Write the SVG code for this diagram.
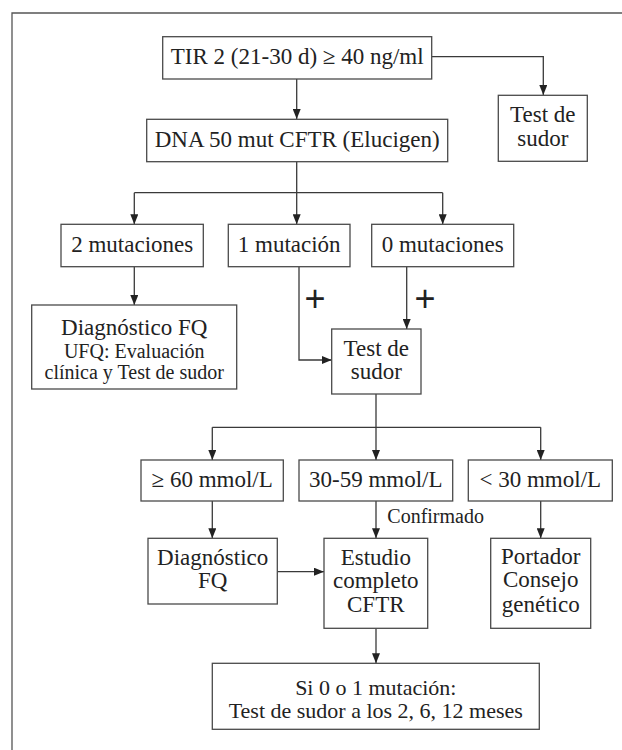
<svg xmlns="http://www.w3.org/2000/svg" width="622" height="750" viewBox="0 0 622 750">
<defs>
<style>
.box{fill:#fff;stroke:#4a4a4a;stroke-width:1.3}
.t{font-family:"Liberation Serif","Times New Roman",serif;font-size:23px;fill:#222;text-anchor:middle}
.s{font-size:20px}
.b{font-size:22px}
.c{font-family:"Liberation Serif","Times New Roman",serif;font-size:20px;fill:#222}
.p{font-family:"Liberation Sans",Arial,sans-serif;font-size:36px;fill:#222;text-anchor:middle}
.ln{fill:none;stroke:#3a3a3a;stroke-width:1.3}
.ar{marker-end:url(#ah)}
</style>
<marker id="ah" markerUnits="userSpaceOnUse" markerWidth="10" markerHeight="8" refX="10" refY="4" orient="auto">
<path d="M0,0 L10,4 L0,8 z" fill="#222"/>
</marker>
</defs>
<path d="M12,750 V13 H622" fill="none" stroke="#555" stroke-width="1.3"/>
<g id="connectors">
<path class="ln ar" d="M296.7,79 V119"/>
<path class="ln ar" d="M431.7,56.7 H543.3 V95"/>
<path class="ln" d="M296.7,161.7 V192.7 M134.3,192.7 H442.7"/>
<path class="ln ar" d="M134.3,192.7 V224.3"/>
<path class="ln ar" d="M296.7,192.7 V224.3"/>
<path class="ln ar" d="M442.7,192.7 V224.3"/>
<path class="ln ar" d="M134.3,266.7 V305"/>
<path class="ln ar" d="M299,266.7 V360 H331.7"/>
<path class="ln ar" d="M406.7,266.7 V329"/>
<path class="ln" d="M376,394 V427.3 M212.3,427.3 H540.7"/>
<path class="ln ar" d="M212.3,427.3 V460"/>
<path class="ln ar" d="M376,427.3 V460"/>
<path class="ln ar" d="M540.7,427.3 V460"/>
<path class="ln ar" d="M212.3,501 V538.3"/>
<path class="ln ar" d="M376,501 V538.3"/>
<path class="ln ar" d="M540.7,501 V538.3"/>
<path class="ln ar" d="M277.3,571.7 H324"/>
<path class="ln ar" d="M376,628.3 V663.3"/>
<text class="p" x="315" y="311">+</text>
<text class="p" x="425" y="311">+</text>
<text class="c" x="387.3" y="523.3">Confirmado</text>
</g>
<g id="tir">
<rect class="box" x="162.7" y="36.7" width="269" height="42.3"/>
<text class="t" x="297.2" y="64.3">TIR 2 (21-30 d) ≥ 40 ng/ml</text>
</g>
<g id="test1">
<rect class="box" x="498.3" y="95.3" width="89" height="66"/>
<text class="t" x="542.8" y="121.7">Test de</text>
<text class="t" x="542.8" y="146">sudor</text>
</g>
<g id="dna">
<rect class="box" x="146.7" y="119.3" width="301" height="42.4"/>
<text class="t" x="297.2" y="146.5">DNA 50 mut CFTR (Elucigen)</text>
</g>
<g id="mut2">
<rect class="box" x="61" y="224.3" width="142.3" height="42.4"/>
<text class="t" x="132.2" y="251.7">2 mutaciones</text>
</g>
<g id="mut1">
<rect class="box" x="228.3" y="224.3" width="121.7" height="42.4"/>
<text class="t" x="289.2" y="251.7">1 mutación</text>
</g>
<g id="mut0">
<rect class="box" x="371.7" y="224.3" width="142" height="42.4"/>
<text class="t" x="442.7" y="251.7">0 mutaciones</text>
</g>
<g id="diag1">
<rect class="box" x="31.7" y="305" width="205" height="84"/>
<text class="t" x="134.2" y="335">Diagnóstico FQ</text>
<text class="t s" x="134.2" y="357.5">UFQ: Evaluación</text>
<text class="t s" x="134.2" y="379">clínica y Test de sudor</text>
</g>
<g id="test2">
<rect class="box" x="331.7" y="329" width="89.3" height="65"/>
<text class="t" x="376.3" y="356">Test de</text>
<text class="t" x="376.3" y="379.3">sudor</text>
</g>
<g id="ge60">
<rect class="box" x="141" y="460" width="142.3" height="41"/>
<text class="t" x="212.2" y="487.3">≥ 60 mmol/L</text>
</g>
<g id="r3059">
<rect class="box" x="299" y="460" width="153.7" height="41"/>
<text class="t" x="375.8" y="487.3">30-59 mmol/L</text>
</g>
<g id="lt30">
<rect class="box" x="468.3" y="460" width="144" height="41"/>
<text class="t" x="540.3" y="487.3">&lt; 30 mmol/L</text>
</g>
<g id="diag2">
<rect class="box" x="148" y="538.3" width="129.3" height="65.7"/>
<text class="t" x="212.7" y="565">Diagnóstico</text>
<text class="t" x="212.7" y="588.3">FQ</text>
</g>
<g id="estudio">
<rect class="box" x="324" y="538.3" width="103.7" height="90"/>
<text class="t" x="375.8" y="565">Estudio</text>
<text class="t" x="375.8" y="588.3">completo</text>
<text class="t" x="375.8" y="611.7">CFTR</text>
</g>
<g id="portador">
<rect class="box" x="490.7" y="538.3" width="100" height="90"/>
<text class="t" x="540.7" y="564">Portador</text>
<text class="t" x="540.7" y="587">Consejo</text>
<text class="t" x="540.7" y="612">genético</text>
</g>
<g id="final">
<rect class="box" x="212.3" y="663.3" width="327" height="66"/>
<text class="t b" x="375.8" y="694.5">Si 0 o 1 mutación:</text>
<text class="t b" x="375.8" y="717.5">Test de sudor a los 2, 6, 12 meses</text>
</g>
</svg>
